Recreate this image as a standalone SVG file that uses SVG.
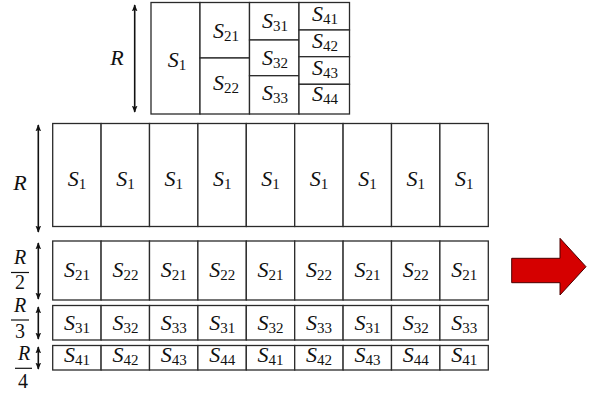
<svg xmlns="http://www.w3.org/2000/svg" width="595" height="394" viewBox="0 0 595 394">
<defs>
<style>
.c{fill:#fff;stroke:#2a2a2a;stroke-width:1.3}
.t{font-family:"Liberation Serif","DejaVu Serif",serif;font-size:22px;fill:#111;text-anchor:middle}
.tt{font-family:"Liberation Serif","DejaVu Serif",serif;font-size:22px;fill:#111;text-anchor:middle}
.f{font-family:"Liberation Serif","DejaVu Serif",serif;font-size:20px;fill:#111;text-anchor:middle}
.i{font-style:italic}
.sub{font-size:15px}
.a{stroke:#111;stroke-width:1.6;fill:none;marker-start:url(#h);marker-end:url(#h)}
.bar{stroke:#111;stroke-width:1.2}
</style>
<marker id="h" viewBox="0 0 10 10" refX="9" refY="5" markerWidth="7" markerHeight="7" orient="auto-start-reverse" markerUnits="userSpaceOnUse">
<path d="M0,1 L10,5 L0,9 L2,5 Z" fill="#111"/>
</marker>
</defs>
<rect width="595" height="394" fill="#fff"/>

<g id="connectors">
<line class="a" x1="134.7" y1="5" x2="134.7" y2="112"/>
<line class="a" x1="38.3" y1="125" x2="38.3" y2="232"/>
<line class="a" x1="38.3" y1="243" x2="38.3" y2="299"/>
<line class="a" x1="38.3" y1="307" x2="38.3" y2="339"/>
<line class="a" x1="38.3" y1="347" x2="38.3" y2="369"/>
</g>

<g id="labels">
<text class="tt i" x="117" y="65">R</text>
<text class="t i" x="20" y="190">R</text>
<g id="lbl-r2"><text class="f i" x="20" y="264">R</text><line class="bar" x1="11" y1="272.5" x2="29" y2="272.5"/><text class="f" x="20" y="289">2</text></g>
<g id="lbl-r3"><text class="f i" x="20" y="312">R</text><line class="bar" x1="11" y1="320" x2="29" y2="320"/><text class="f" x="20" y="338">3</text></g>
<g id="lbl-r4"><text class="f i" x="24" y="360">R</text><line class="bar" x1="15" y1="368.3" x2="32" y2="368.3"/><text class="f" x="23" y="388">4</text></g>
</g>

<g id="top">
<g id="t-s1"><rect class="c" x="151" y="2.5" width="49" height="111.5"/><text class="tt" x="177" y="67"><tspan class="i">S</tspan><tspan class="sub" dy="3">1</tspan></text></g>
<g id="t-s21"><rect class="c" x="200" y="2.5" width="49.5" height="55.5"/><text class="tt" x="226" y="38"><tspan class="i">S</tspan><tspan class="sub" dy="3">21</tspan></text></g>
<g id="t-s22"><rect class="c" x="200" y="58" width="49.5" height="56"/><text class="tt" x="226" y="90"><tspan class="i">S</tspan><tspan class="sub" dy="3">22</tspan></text></g>
<g id="t-s31"><rect class="c" x="249.5" y="2.5" width="49.5" height="37.5"/><text class="tt" x="275" y="28"><tspan class="i">S</tspan><tspan class="sub" dy="3">31</tspan></text></g>
<g id="t-s32"><rect class="c" x="249.5" y="40" width="49.5" height="35.7"/><text class="tt" x="275" y="65"><tspan class="i">S</tspan><tspan class="sub" dy="3">32</tspan></text></g>
<g id="t-s33"><rect class="c" x="249.5" y="75.7" width="49.5" height="38.3"/><text class="tt" x="275" y="100"><tspan class="i">S</tspan><tspan class="sub" dy="3">33</tspan></text></g>
<g id="t-s41"><rect class="c" x="299" y="2.5" width="50.5" height="27.5"/><text class="tt" x="325" y="21"><tspan class="i">S</tspan><tspan class="sub" dy="3">41</tspan></text></g>
<g id="t-s42"><rect class="c" x="299" y="30" width="50.5" height="26.7"/><text class="tt" x="325" y="48"><tspan class="i">S</tspan><tspan class="sub" dy="3">42</tspan></text></g>
<g id="t-s43"><rect class="c" x="299" y="56.7" width="50.5" height="27.6"/><text class="tt" x="325" y="75"><tspan class="i">S</tspan><tspan class="sub" dy="3">43</tspan></text></g>
<g id="t-s44"><rect class="c" x="299" y="84.3" width="50.5" height="29.7"/><text class="tt" x="325" y="101"><tspan class="i">S</tspan><tspan class="sub" dy="3">44</tspan></text></g>
</g>

<g id="row1">
<g id="r1c1"><rect class="c" x="52.7" y="123.5" width="48.4" height="103"/><text class="t" x="77" y="186"><tspan class="i">S</tspan><tspan class="sub" dy="3">1</tspan></text></g>
<g id="r1c2"><rect class="c" x="101.1" y="123.5" width="48.4" height="103"/><text class="t" x="125.4" y="186"><tspan class="i">S</tspan><tspan class="sub" dy="3">1</tspan></text></g>
<g id="r1c3"><rect class="c" x="149.5" y="123.5" width="48.4" height="103"/><text class="t" x="173.8" y="186"><tspan class="i">S</tspan><tspan class="sub" dy="3">1</tspan></text></g>
<g id="r1c4"><rect class="c" x="197.9" y="123.5" width="48.4" height="103"/><text class="t" x="222.2" y="186"><tspan class="i">S</tspan><tspan class="sub" dy="3">1</tspan></text></g>
<g id="r1c5"><rect class="c" x="246.3" y="123.5" width="48.4" height="103"/><text class="t" x="270.6" y="186"><tspan class="i">S</tspan><tspan class="sub" dy="3">1</tspan></text></g>
<g id="r1c6"><rect class="c" x="294.7" y="123.5" width="48.4" height="103"/><text class="t" x="319" y="186"><tspan class="i">S</tspan><tspan class="sub" dy="3">1</tspan></text></g>
<g id="r1c7"><rect class="c" x="343.1" y="123.5" width="48.4" height="103"/><text class="t" x="367.4" y="186"><tspan class="i">S</tspan><tspan class="sub" dy="3">1</tspan></text></g>
<g id="r1c8"><rect class="c" x="391.5" y="123.5" width="48.4" height="103"/><text class="t" x="415.8" y="186"><tspan class="i">S</tspan><tspan class="sub" dy="3">1</tspan></text></g>
<g id="r1c9"><rect class="c" x="439.9" y="123.5" width="48.4" height="103"/><text class="t" x="464.2" y="186"><tspan class="i">S</tspan><tspan class="sub" dy="3">1</tspan></text></g>
</g>

<g id="row2">
<g id="r2c1"><rect class="c" x="52.7" y="241" width="48.4" height="59"/><text class="t" x="77" y="277"><tspan class="i">S</tspan><tspan class="sub" dy="3">21</tspan></text></g>
<g id="r2c2"><rect class="c" x="101.1" y="241" width="48.4" height="59"/><text class="t" x="125.4" y="277"><tspan class="i">S</tspan><tspan class="sub" dy="3">22</tspan></text></g>
<g id="r2c3"><rect class="c" x="149.5" y="241" width="48.4" height="59"/><text class="t" x="173.8" y="277"><tspan class="i">S</tspan><tspan class="sub" dy="3">21</tspan></text></g>
<g id="r2c4"><rect class="c" x="197.9" y="241" width="48.4" height="59"/><text class="t" x="222.2" y="277"><tspan class="i">S</tspan><tspan class="sub" dy="3">22</tspan></text></g>
<g id="r2c5"><rect class="c" x="246.3" y="241" width="48.4" height="59"/><text class="t" x="270.6" y="277"><tspan class="i">S</tspan><tspan class="sub" dy="3">21</tspan></text></g>
<g id="r2c6"><rect class="c" x="294.7" y="241" width="48.4" height="59"/><text class="t" x="319" y="277"><tspan class="i">S</tspan><tspan class="sub" dy="3">22</tspan></text></g>
<g id="r2c7"><rect class="c" x="343.1" y="241" width="48.4" height="59"/><text class="t" x="367.4" y="277"><tspan class="i">S</tspan><tspan class="sub" dy="3">21</tspan></text></g>
<g id="r2c8"><rect class="c" x="391.5" y="241" width="48.4" height="59"/><text class="t" x="415.8" y="277"><tspan class="i">S</tspan><tspan class="sub" dy="3">22</tspan></text></g>
<g id="r2c9"><rect class="c" x="439.9" y="241" width="48.4" height="59"/><text class="t" x="464.2" y="277"><tspan class="i">S</tspan><tspan class="sub" dy="3">21</tspan></text></g>
</g>

<g id="row3">
<g id="r3c1"><rect class="c" x="52.7" y="305.5" width="48.4" height="34.5"/><text class="t" x="77" y="330"><tspan class="i">S</tspan><tspan class="sub" dy="3">31</tspan></text></g>
<g id="r3c2"><rect class="c" x="101.1" y="305.5" width="48.4" height="34.5"/><text class="t" x="125.4" y="330"><tspan class="i">S</tspan><tspan class="sub" dy="3">32</tspan></text></g>
<g id="r3c3"><rect class="c" x="149.5" y="305.5" width="48.4" height="34.5"/><text class="t" x="173.8" y="330"><tspan class="i">S</tspan><tspan class="sub" dy="3">33</tspan></text></g>
<g id="r3c4"><rect class="c" x="197.9" y="305.5" width="48.4" height="34.5"/><text class="t" x="222.2" y="330"><tspan class="i">S</tspan><tspan class="sub" dy="3">31</tspan></text></g>
<g id="r3c5"><rect class="c" x="246.3" y="305.5" width="48.4" height="34.5"/><text class="t" x="270.6" y="330"><tspan class="i">S</tspan><tspan class="sub" dy="3">32</tspan></text></g>
<g id="r3c6"><rect class="c" x="294.7" y="305.5" width="48.4" height="34.5"/><text class="t" x="319" y="330"><tspan class="i">S</tspan><tspan class="sub" dy="3">33</tspan></text></g>
<g id="r3c7"><rect class="c" x="343.1" y="305.5" width="48.4" height="34.5"/><text class="t" x="367.4" y="330"><tspan class="i">S</tspan><tspan class="sub" dy="3">31</tspan></text></g>
<g id="r3c8"><rect class="c" x="391.5" y="305.5" width="48.4" height="34.5"/><text class="t" x="415.8" y="330"><tspan class="i">S</tspan><tspan class="sub" dy="3">32</tspan></text></g>
<g id="r3c9"><rect class="c" x="439.9" y="305.5" width="48.4" height="34.5"/><text class="t" x="464.2" y="330"><tspan class="i">S</tspan><tspan class="sub" dy="3">33</tspan></text></g>
</g>

<g id="row4">
<g id="r4c1"><rect class="c" x="52.7" y="345.5" width="48.4" height="24.5"/><text class="t" x="77" y="362"><tspan class="i">S</tspan><tspan class="sub" dy="3">41</tspan></text></g>
<g id="r4c2"><rect class="c" x="101.1" y="345.5" width="48.4" height="24.5"/><text class="t" x="125.4" y="362"><tspan class="i">S</tspan><tspan class="sub" dy="3">42</tspan></text></g>
<g id="r4c3"><rect class="c" x="149.5" y="345.5" width="48.4" height="24.5"/><text class="t" x="173.8" y="362"><tspan class="i">S</tspan><tspan class="sub" dy="3">43</tspan></text></g>
<g id="r4c4"><rect class="c" x="197.9" y="345.5" width="48.4" height="24.5"/><text class="t" x="222.2" y="362"><tspan class="i">S</tspan><tspan class="sub" dy="3">44</tspan></text></g>
<g id="r4c5"><rect class="c" x="246.3" y="345.5" width="48.4" height="24.5"/><text class="t" x="270.6" y="362"><tspan class="i">S</tspan><tspan class="sub" dy="3">41</tspan></text></g>
<g id="r4c6"><rect class="c" x="294.7" y="345.5" width="48.4" height="24.5"/><text class="t" x="319" y="362"><tspan class="i">S</tspan><tspan class="sub" dy="3">42</tspan></text></g>
<g id="r4c7"><rect class="c" x="343.1" y="345.5" width="48.4" height="24.5"/><text class="t" x="367.4" y="362"><tspan class="i">S</tspan><tspan class="sub" dy="3">43</tspan></text></g>
<g id="r4c8"><rect class="c" x="391.5" y="345.5" width="48.4" height="24.5"/><text class="t" x="415.8" y="362"><tspan class="i">S</tspan><tspan class="sub" dy="3">44</tspan></text></g>
<g id="r4c9"><rect class="c" x="439.9" y="345.5" width="48.4" height="24.5"/><text class="t" x="464.2" y="362"><tspan class="i">S</tspan><tspan class="sub" dy="3">41</tspan></text></g>
</g>

<g id="red-arrow">
<polygon points="511.7,258.3 560,258.3 560,238.3 586,266.7 560,295 560,282.7 511.7,282.7" fill="#d50000" stroke="#4a0000" stroke-width="1"/>
</g>
</svg>
